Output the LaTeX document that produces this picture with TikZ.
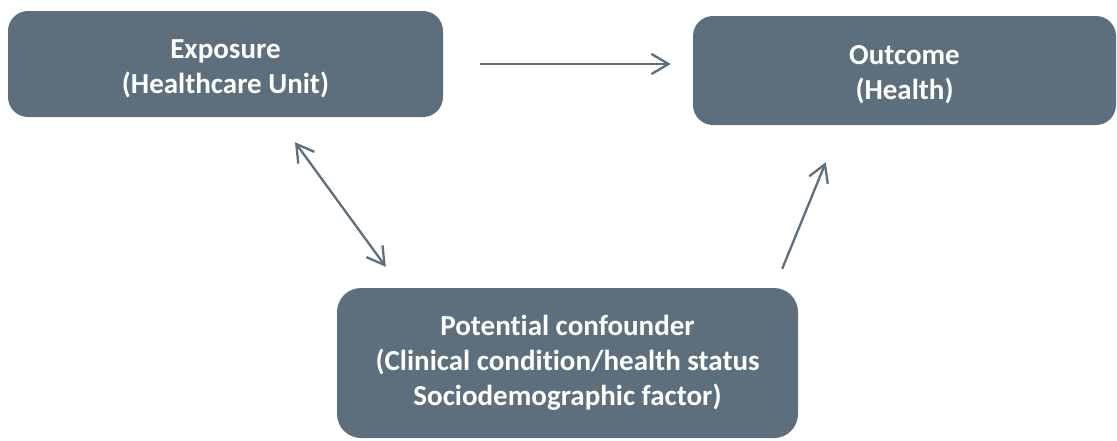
\documentclass[tikz,border=0pt]{standalone}
\usepackage{fontspec}
\setmainfont{Carlito}[Ligatures=NoCommon]
\usepackage{xcolor}
\usepackage{tikz}
\usetikzlibrary{calc,arrows.meta}
\definecolor{slate}{HTML}{5D6F7C}
\definecolor{boxtext}{HTML}{FFFFFF}
\newcommand{\topstrut}{\rule{0pt}{28pt}}
\tikzset{
  stageBox/.style={fill=slate, rounded corners=20pt, inner sep=0pt, text=boxtext,
    font=\fontsize{29}{35}\selectfont\bfseries, align=center},
  link/.style={draw=slate, line width=2.3pt, -{Straight Barb[length=17pt,width=20pt]}},
  dlink/.style={draw=slate, line width=2.3pt,
    {Straight Barb[length=17pt,width=20pt]}-{Straight Barb[length=17pt,width=20pt]}}
}

\begin{document}
\begin{tikzpicture}[x=1pt,y=-1pt]
  \useasboundingbox (0,0) rectangle (1117,440);

  % boxes
  \node[stageBox, minimum width=435pt, minimum height=106pt] (expo) at (225.5,64)
    {\topstrut Exposure\\(Healthcare Unit)};
  \node[stageBox, minimum width=423pt, minimum height=109pt] (outc) at (904.5,70.5)
    {\topstrut Outcome\\(Health)};
  \node[stageBox, rounded corners=24pt, minimum width=461pt, minimum height=150pt] (conf) at (567.5,363)
    {Potential confounder\\(Clinical condition/health status\\Sociodemographic factor)};

  % arrow ends
  \coordinate (xa) at ($(expo.south)+(69.5,25)$);
  \coordinate (ca) at ($(conf.north west)+(49,-21)$);
  \coordinate (cb) at ($(conf.north east)+(-16,-19)$);
  \coordinate (ob) at ($(outc.south west)+(133,37)$);

  % arrows
  \draw[link, shorten <=37pt, shorten >=22pt] (expo.east) -- (expo.east -| outc.west);
  \draw[dlink] (xa) -- (ca);
  \draw[link] (cb) -- (ob);
\end{tikzpicture}
\end{document}
